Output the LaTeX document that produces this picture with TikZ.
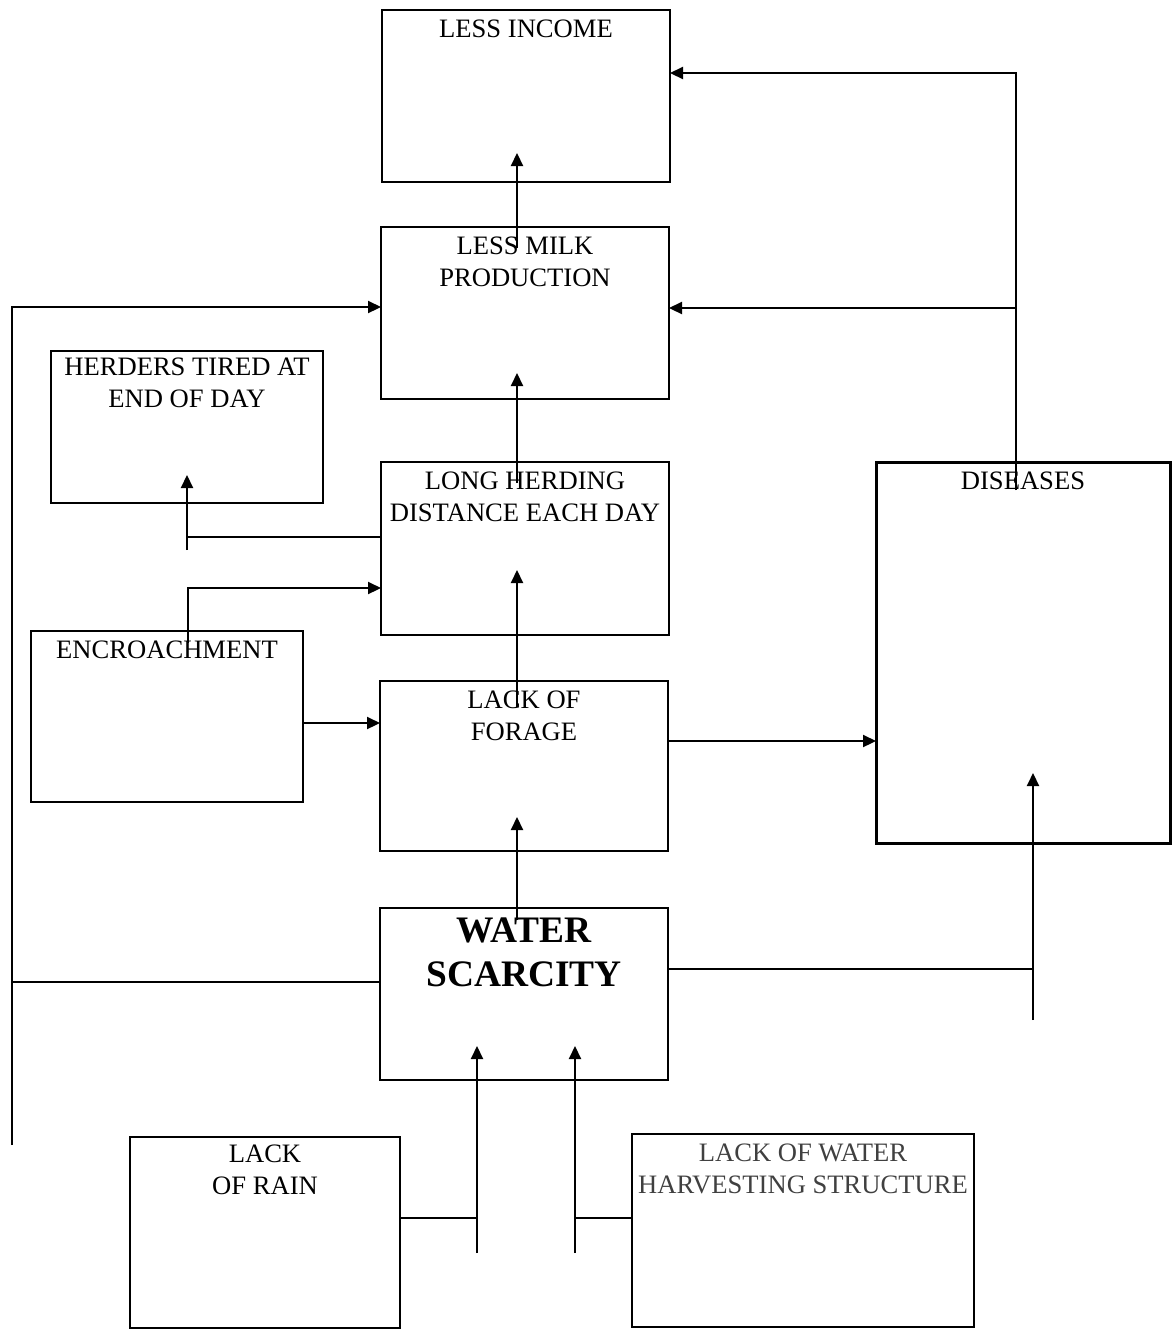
\documentclass[tikz,border=0pt]{standalone}
\usepackage{fontspec}
\setmainfont{Liberation Serif}
\usetikzlibrary{arrows.meta}

\begin{document}
\begin{tikzpicture}[
    x=0.5pt, y=-0.5pt,
    box/.style={rectangle, draw=black, line width=1pt, anchor=north west, outer sep=0pt, inner sep=0pt},
    txt/.style={anchor=north, align=center, inner sep=0pt, yshift=-4.5pt, font=\fontsize{13.3}{16}\selectfont},
    wire/.style={draw=black, line width=1.1pt},
    link/.style={wire, -{Triangle[length=6.5pt, width=6pt]}}
]
    \useasboundingbox (0,0) rectangle (1172,1329);

    % Boxes
    \node[box, minimum width=144pt, minimum height=86pt]   (INC)   at (382,10)   {};
    \node[box, minimum width=144pt, minimum height=86pt]   (MILK)  at (381,227)  {};
    \node[box, minimum width=136pt, minimum height=76pt]   (TIRED) at (51,351)   {};
    \node[box, minimum width=144pt, minimum height=86.5pt] (HERD)  at (381,462)  {};
    \node[box, minimum width=147pt, minimum height=190.5pt, line width=1.5pt] (DIS) at (876,462) {};
    \node[box, minimum width=136pt, minimum height=85.5pt] (ENC)   at (31,631)   {};
    \node[box, minimum width=144pt, minimum height=85pt]   (FOR)   at (380,681)  {};
    \node[box, minimum width=144pt, minimum height=86pt]   (WS)    at (380,908)  {};
    \node[box, minimum width=135pt, minimum height=95.5pt, line width=0.8pt] (RAIN) at (130,1137) {};
    \node[box, minimum width=171pt, minimum height=96.5pt, line width=0.8pt] (WHS)  at (632,1134) {};

    % Box texts
    \node[txt] (INC_T)   at (INC.north)   {LESS INCOME};
    \node[txt] (MILK_T)  at (MILK.north)  {LESS MILK\\PRODUCTION};
    \node[txt, yshift=1.5pt] (TIRED_T) at (TIRED.north) {HERDERS TIRED AT\\END OF DAY};
    \node[txt] (HERD_T)  at (HERD.north)  {LONG HERDING\\DISTANCE EACH DAY};
    \node[txt] (DIS_T)   at (DIS.north)   {DISEASES};
    \node[txt] (ENC_T)   at (ENC.north)   {ENCROACHMENT};
    \node[txt] (FOR_T)   at (FOR.north)   {LACK OF\\FORAGE};
    \node[txt, font=\fontsize{18.7}{22}\selectfont\bfseries] (WS_T) at (WS.north) {WATER\\SCARCITY};
    \node[txt, yshift=1pt] (RAIN_T)  at (RAIN.north)  {LACK\\OF RAIN};
    \node[txt, text=black!75] (WHS_T) at (WHS.north) {LACK OF WATER\\HARVESTING STRUCTURE};

    % Free ends
    \coordinate (DIS_UP)    at ([xshift=-3.5pt, yshift=-14pt]DIS.north);
    \coordinate (LOOP_END)  at (12,1145);
    \coordinate (TIRED_END) at ([yshift=-23.5pt]TIRED.south);
    \coordinate (DIS_END)   at ([xshift=5pt, yshift=-88.5pt]DIS.south);
    \coordinate (RAIN_END)  at ([xshift=-23.5pt, yshift=-86.5pt]WS.south);
    \coordinate (WHS_END)   at ([xshift=25.5pt, yshift=-86.5pt]WS.south);

    % Main chain
    \draw[link] ([xshift=-4pt, yshift=-10.5pt]MILK.north) -- ([xshift=-4.5pt, yshift=14.5pt]INC.south);
    \draw[link] ([xshift=-4pt, yshift=-10.5pt]HERD.north) -- ([xshift=-4pt, yshift=13pt]MILK.south);
    \draw[link] ([xshift=-3.5pt, yshift=-13pt]FOR.north) -- ([xshift=-4pt, yshift=32.5pt]HERD.south);
    \draw[link] ([xshift=-3.5pt, yshift=-6pt]WS.north) -- ([xshift=-3.5pt, yshift=17pt]FOR.south);

    % Diseases
    \draw[link] (DIS_UP) |- ([yshift=11.5pt]INC.east);
    \draw[link] (DIS_UP) |- ([yshift=2.5pt]MILK.east);
    \draw[link] ([yshift=12.5pt]FOR.east) -- ([yshift=-44.25pt]DIS.west);
    \draw[link] (DIS_END) -- ([xshift=5pt, yshift=35pt]DIS.south);
    \draw[wire, line width=1.4pt] ([yshift=12.5pt]WS.east) -| (DIS_END);

    % Left side
    \draw[link] (LOOP_END) |- ([yshift=3pt]MILK.west);
    \draw[wire, line width=1.4pt] ([yshift=6pt]WS.west) -| (LOOP_END);
    \draw[link] (TIRED_END) -- ([yshift=14pt]TIRED.south);
    \draw[wire, line width=1.4pt] ([yshift=5.75pt]HERD.west) -| (TIRED_END);
    \draw[link] ([xshift=10.5pt, yshift=-6pt]ENC.north) |- ([yshift=-19.75pt]HERD.west);
    \draw[link] ([yshift=-3.25pt]ENC.east) -- ([yshift=21.5pt]FOR.west);

    % Causes of water scarcity
    \draw[link] (RAIN_END) -- ([xshift=-23.5pt, yshift=17pt]WS.south);
    \draw[wire] ([yshift=7.25pt]RAIN.east) -| (RAIN_END);
    \draw[link] (WHS_END) -- ([xshift=25.5pt, yshift=17pt]WS.south);
    \draw[wire] ([yshift=6.25pt]WHS.west) -| (WHS_END);
\end{tikzpicture}
\end{document}
